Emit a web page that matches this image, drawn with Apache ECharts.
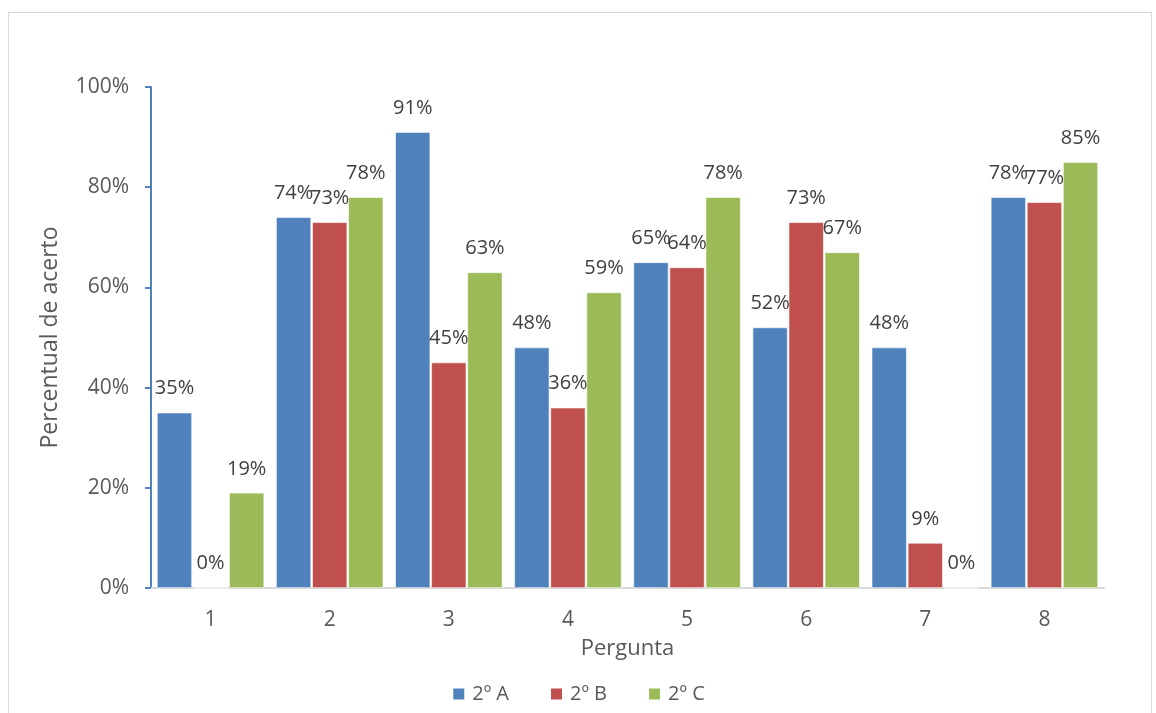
<!DOCTYPE html>
<html>
<head>
<meta charset="utf-8">
<script src="https://cdn.jsdelivr.net/npm/echarts@6/dist/echarts.min.js"></script>
<style>
  html, body { margin: 0; padding: 0; background: #fff; }
  #frame { position: absolute; left: 8px; top: 12px; width: 1144px; height: 720px; border: 1px solid #d9d9d9; box-sizing: border-box; }
  #chart { position: absolute; left: 0; top: 0; width: 1156px; height: 713px; }
</style>
</head>
<body>
<div id="frame"></div>
<div id="chart"></div>
<script>
const categories = ['1', '2', '3', '4', '5', '6', '7', '8'];
const serieA = [35, 74, 91, 48, 65, 52, 48, 78];
const serieB = [0, 73, 45, 36, 64, 73, 9, 77];
const serieC = [19, 78, 63, 59, 78, 67, 0, 85];
const seriesNames = ['2º A', '2º B', '2º C'];
const yTicks = [0, 20, 40, 60, 80, 100];

const FONT = '"Open Sans", "Noto Sans", sans-serif';
const colors = ['#4f81bd', '#c0504d', '#9bbb59'];

function makeSeries(name, data, color) {
  return {
    name: name,
    type: 'bar',
    data: data,
    barGap: '3%',
    barCategoryGap: '10%',
    itemStyle: { color: color, borderColor: '#ffffff', borderWidth: 0.6 },
    label: {
      show: true,
      position: 'top',
      distance: 14,
      formatter: p => p.value + '%',
      color: '#404040',
      fontSize: 20,
      fontFamily: FONT
    }
  };
}

const chart = echarts.init(document.getElementById('chart'), null, { renderer: 'canvas' });
chart.setOption({
  animation: false,
  color: colors,
  grid: { left: 151, right: 52, top: 87, bottom: 125, containLabel: false },
  legend: {
    data: seriesNames,
    top: 679,
    left: 'center',
    itemWidth: 13,
    itemHeight: 13,
    itemGap: 40,
    icon: 'rect',
    textStyle: { color: '#595959', fontSize: 20, fontFamily: FONT, padding: [0, 0, 0, 2] }
  },
  xAxis: {
    type: 'category',
    data: categories,
    name: 'Pergunta',
    nameLocation: 'middle',
    nameGap: 50,
    nameTextStyle: { color: '#595959', fontSize: 22, fontFamily: FONT },
    axisLine: { lineStyle: { color: '#d9d9d9', width: 2 } },
    axisTick: { show: false },
    axisLabel: { color: '#595959', fontSize: 21, fontFamily: FONT, margin: 22 }
  },
  yAxis: {
    type: 'value',
    min: 0,
    max: 100,
    interval: 20,
    name: 'Percentual de acerto',
    nameLocation: 'middle',
    nameRotate: 90,
    nameGap: 89,
    nameTextStyle: { color: '#595959', fontSize: 23, fontFamily: FONT },
    axisLine: { show: true, lineStyle: { color: '#4f81bd', width: 2 } },
    axisTick: { show: true, length: 6, lineStyle: { color: '#4f81bd', width: 2 } },
    splitLine: { show: false },
    axisLabel: {
      color: '#595959', fontSize: 21, fontFamily: FONT, margin: 22,
      formatter: v => (yTicks.includes(v) ? v + '%' : '')
    }
  },
  series: [
    makeSeries(seriesNames[0], serieA, colors[0]),
    makeSeries(seriesNames[1], serieB, colors[1]),
    makeSeries(seriesNames[2], serieC, colors[2])
  ]
});
</script>
</body>
</html>
